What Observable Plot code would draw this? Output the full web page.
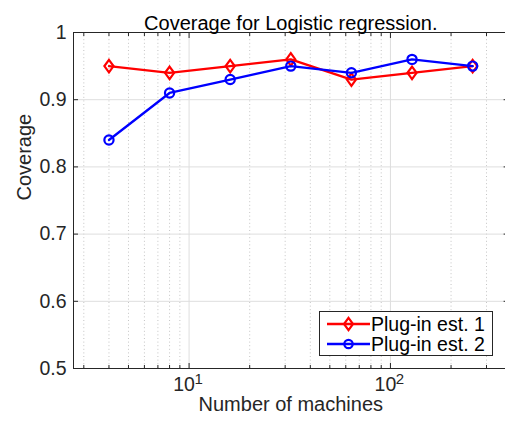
<!DOCTYPE html>
<html>
<head>
<meta charset="utf-8">
<script src="https://cdn.jsdelivr.net/npm/d3@7"></script>
<script src="https://cdn.jsdelivr.net/npm/@observablehq/plot@0.6"></script>
<style>
  html, body { margin: 0; padding: 0; background: #fff; overflow: hidden; }
  #wrap { position: relative; width: 505px; height: 423px; overflow: hidden; font-family: "Liberation Sans", Arial, Helvetica, sans-serif; }
  #wrap svg { max-width: none !important; }
  #legend { position: absolute; left: 319px; top: 311px; width: 172px; height: 43px; border: 1px solid #262626; background: #fff; box-sizing: content-box; }
  .row { position: absolute; left: 0; height: 20px; display: flex; align-items: center; }
  .row span { font-size: 19.5px; color: #000; margin-left: 1px; line-height: 20px; white-space: nowrap; }
</style>
</head>
<body>
<div id="wrap"></div>
<script>
const machines = [4, 8, 16, 32, 64, 128, 256];
const est1 = [0.95, 0.94, 0.95, 0.96, 0.93, 0.94, 0.95];
const est2 = [0.84, 0.91, 0.93, 0.95, 0.94, 0.96, 0.95];
const seriesNames = ["Plug-in est. 1", "Plug-in est. 2"];
const seriesColors = ["#ff0000", "#0000ff"];
const seriesMarkers = ["diamond", "circle"];
const yTicks = [0.5, 0.6, 0.7, 0.8, 0.9, 1];
const yTickLabels = ["0.5", "0.6", "0.7", "0.8", "0.9", "1"];
const xMajor = [10, 100];
const xMajorBase = ["10", "10"];
const xMajorExp = ["1", "2"];
const xMinor = [3, 4, 5, 6, 7, 8, 9, 20, 30, 40, 50, 60, 70, 80, 90, 200, 300];
const xDomain = [8 / 3, 384];
const yDomain = [0.5, 1];
const titleText = "Coverage for Logistic regression.";
const xLabelText = "Number of machines";
const yLabelText = "Coverage";

const axisColor = "#262626";
const font = "Liberation Sans, Arial, Helvetica, sans-serif";

// custom MATLAB-like diamond (a bit taller than wide)
const matlabDiamond = {
  draw(ctx, size) {
    const r = Math.sqrt(size / Math.PI);
    const hw = r * 0.95, hh = r * 1.3;
    ctx.moveTo(0, -hh); ctx.lineTo(hw, 0); ctx.lineTo(0, hh); ctx.lineTo(-hw, 0); ctx.closePath();
  }
};

const rows = [est1, est2].map((vals, s) => machines.map((m, i) => ({m, v: vals[i], s})));

const marks = [
  Plot.ruleX(xMinor, {x: d => d, stroke: "#c4c4c4", strokeDasharray: "1,2.6", strokeWidth: 1}),
  Plot.ruleX(xMajor, {x: d => d, stroke: "#dedede", strokeWidth: 1}),
  Plot.ruleY(yTicks, {y: d => d, stroke: "#dedede", strokeWidth: 1}),
  Plot.frame({stroke: axisColor, strokeWidth: 1}),
  // inward ticks
  Plot.axisX(xMajor, {anchor: "bottom", tickSize: 5, dy: -5, tickFormat: () => "", label: null, stroke: axisColor}),
  Plot.axisX(xMinor, {anchor: "bottom", tickSize: 3, dy: -3, tickFormat: () => "", label: null, stroke: axisColor}),
  Plot.axisX(xMajor, {anchor: "top", tickSize: 5, dy: 5, tickFormat: () => "", label: null, stroke: axisColor}),
  Plot.axisX(xMinor, {anchor: "top", tickSize: 3, dy: 3, tickFormat: () => "", label: null, stroke: axisColor}),
  Plot.axisY(yTicks, {anchor: "left", tickSize: 5, dx: 5, tickFormat: () => "", label: null, stroke: axisColor}),
  Plot.axisY(yTicks, {anchor: "right", tickSize: 5, dx: -5, tickFormat: () => "", label: null, stroke: axisColor}),
  // tick labels
  Plot.text(yTicks, {y: d => d, text: (d, i) => yTickLabels[i], frameAnchor: "left", textAnchor: "end", dx: -7, fontSize: 19.5, fill: axisColor, fontFamily: font}),
  Plot.text(xMajor, {x: d => d, text: (d, i) => xMajorBase[i], frameAnchor: "bottom", dy: 22, dx: -5, fontSize: 19.5, fill: axisColor, fontFamily: font}),
  Plot.text(xMajor, {x: d => d, text: (d, i) => xMajorExp[i], frameAnchor: "bottom", dy: 15, dx: 9.5, fontSize: 15, fill: axisColor, fontFamily: font}),
  // labels and title
  Plot.text([xLabelText], {text: d => d, frameAnchor: "bottom", dy: 42, fontSize: 20, fill: axisColor, fontFamily: font}),
  Plot.text([yLabelText], {text: d => d, frameAnchor: "left", rotate: -90, dx: -49, fontSize: 20, fill: axisColor, fontFamily: font}),
  Plot.text([titleText], {text: d => d, frameAnchor: "top", dy: -17, fontSize: 20, fill: "#000", fontFamily: font})
];

rows.forEach((r, s) => {
  marks.push(Plot.line(r, {x: "m", y: "v", stroke: seriesColors[s], strokeWidth: 2.3}));
  marks.push(Plot.dot(r, {x: "m", y: "v", stroke: seriesColors[s], strokeWidth: 2.2, fill: "none",
    symbol: seriesMarkers[s] === "diamond" ? matlabDiamond : "circle", r: seriesMarkers[s] === "diamond" ? 4.8 : 4.6}));
});

const chart = Plot.plot({
  width: 510,
  height: 423,
  marginLeft: 73,
  marginRight: 2.4,
  marginTop: 32,
  marginBottom: 55,
  style: {fontFamily: font, background: "#fff", overflow: "visible"},
  x: {type: "log", domain: xDomain, axis: null},
  y: {domain: yDomain, axis: null},
  marks
});
document.getElementById("wrap").appendChild(chart);

// legend
const legend = document.createElement("div");
legend.id = "legend";
seriesNames.forEach((name, s) => {
  const row = document.createElement("div");
  row.className = "row";
  row.style.top = (2 + s * 20) + "px";
  row.style.left = "7px";
  const ns = "http://www.w3.org/2000/svg";
  const svg = document.createElementNS(ns, "svg");
  svg.setAttribute("width", 43); svg.setAttribute("height", 20);
  const ln = document.createElementNS(ns, "line");
  ln.setAttribute("x1", 0); ln.setAttribute("x2", 43); ln.setAttribute("y1", 10); ln.setAttribute("y2", 10);
  ln.setAttribute("stroke", seriesColors[s]); ln.setAttribute("stroke-width", 2.3);
  svg.appendChild(ln);
  let mk;
  if (seriesMarkers[s] === "diamond") {
    mk = document.createElementNS(ns, "path");
    mk.setAttribute("d", "M21.5,3.8L26,10L21.5,16.2L17,10Z");
  } else {
    mk = document.createElementNS(ns, "circle");
    mk.setAttribute("cx", 21.5); mk.setAttribute("cy", 10); mk.setAttribute("r", 4.2);
  }
  mk.setAttribute("fill", "none"); mk.setAttribute("stroke", seriesColors[s]); mk.setAttribute("stroke-width", 2.2);
  svg.appendChild(mk);
  row.appendChild(svg);
  const t = document.createElement("span");
  t.textContent = name;
  row.appendChild(t);
  legend.appendChild(row);
});
document.getElementById("wrap").appendChild(legend);
</script>
</body>
</html>
